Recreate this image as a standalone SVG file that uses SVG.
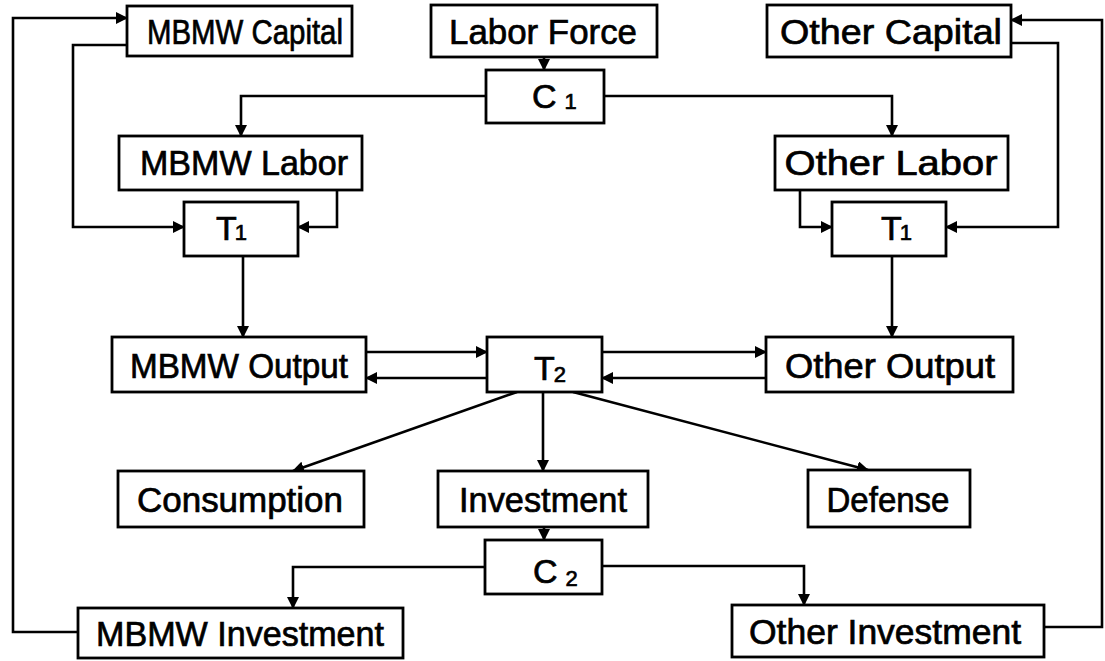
<svg xmlns="http://www.w3.org/2000/svg" width="1105" height="661" viewBox="0 0 1105 661">
<style>
.box{fill:#fff;stroke:#000;stroke-width:2.8}
.lbl{font-family:"Liberation Sans",Arial,sans-serif;font-size:35px;fill:#000;stroke:#000;stroke-width:0.7;text-anchor:middle}
.sym{font-family:"Liberation Sans",Arial,sans-serif;font-size:34px;fill:#000;stroke:#000;stroke-width:0.7}
.sub{font-size:22px}
.con{fill:none;stroke:#000;stroke-width:2.6}
</style>
<defs>
<marker id="ah" markerUnits="userSpaceOnUse" markerWidth="12" markerHeight="12" refX="11" refY="6" orient="auto">
<path d="M0,0 L12,6 L0,12 z" fill="#000"/>
</marker>
</defs>
<rect width="1105" height="661" fill="#fff"/>
<g id="connectors">
<path class="con" d="M78,632 H13 V18 H127" marker-end="url(#ah)"/>
<path class="con" d="M127,45 H73 V227 H184" marker-end="url(#ah)"/>
<path class="con" d="M337,190 V227 H298" marker-end="url(#ah)"/>
<path class="con" d="M486,96 H241 V136" marker-end="url(#ah)"/>
<path class="con" d="M604,96 H892 V136" marker-end="url(#ah)"/>
<path class="con" d="M544,57 V70" marker-end="url(#ah)"/>
<path class="con" d="M1011,43 H1058 V227 H946" marker-end="url(#ah)"/>
<path class="con" d="M800,190 V227 H832" marker-end="url(#ah)"/>
<path class="con" d="M1044,627 H1102 V20 H1011" marker-end="url(#ah)"/>
<path class="con" d="M243,256 V337" marker-end="url(#ah)"/>
<path class="con" d="M892,256 V337" marker-end="url(#ah)"/>
<path class="con" d="M366,352 H487" marker-end="url(#ah)"/>
<path class="con" d="M487,378 H366" marker-end="url(#ah)"/>
<path class="con" d="M602,352 H766" marker-end="url(#ah)"/>
<path class="con" d="M766,378 H602" marker-end="url(#ah)"/>
<path class="con" d="M517,392 L293,471" marker-end="url(#ah)"/>
<path class="con" d="M543,392 V471" marker-end="url(#ah)"/>
<path class="con" d="M573,392 L868,470" marker-end="url(#ah)"/>
<path class="con" d="M544,527 V540" marker-end="url(#ah)"/>
<path class="con" d="M485,567 H293 V608" marker-end="url(#ah)"/>
<path class="con" d="M602,566 H804 V605" marker-end="url(#ah)"/>
</g>
<g id="mbmw-capital"><rect class="box" x="127" y="6" width="225" height="50"/><text class="lbl" x="245" y="44" textLength="196" lengthAdjust="spacingAndGlyphs">MBMW Capital</text></g>
<g id="labor-force"><rect class="box" x="431" y="5" width="226" height="52"/><text class="lbl" x="543" y="44" textLength="188" lengthAdjust="spacingAndGlyphs">Labor Force</text></g>
<g id="other-capital"><rect class="box" x="767" y="5" width="244" height="52"/><text class="lbl" x="891" y="44" textLength="222" lengthAdjust="spacingAndGlyphs">Other Capital</text></g>
<g id="c1"><rect class="box" x="486" y="70" width="118" height="53"/><text class="sym" x="532" y="108">C<tspan class="sub" dx="8" dy="1">1</tspan></text></g>
<g id="mbmw-labor"><rect class="box" x="119" y="136" width="243" height="54"/><text class="lbl" x="244" y="175" textLength="208" lengthAdjust="spacingAndGlyphs">MBMW Labor</text></g>
<g id="other-labor"><rect class="box" x="775" y="136" width="233" height="54"/><text class="lbl" x="891" y="175" textLength="213" lengthAdjust="spacingAndGlyphs">Other Labor</text></g>
<g id="t1-left"><rect class="box" x="184" y="202" width="114" height="54"/><text class="sym" x="216" y="240">T<tspan class="sub" dx="-2" dy="0">1</tspan></text></g>
<g id="t1-right"><rect class="box" x="832" y="202" width="114" height="54"/><text class="sym" x="881" y="240">T<tspan class="sub" dx="-2" dy="0">1</tspan></text></g>
<g id="mbmw-output"><rect class="box" x="112" y="337" width="254" height="55"/><text class="lbl" x="239" y="378" textLength="218" lengthAdjust="spacingAndGlyphs">MBMW Output</text></g>
<g id="t2"><rect class="box" x="487" y="337" width="115" height="55"/><text class="sym" x="534" y="380">T<tspan class="sub" dx="-1" dy="2">2</tspan></text></g>
<g id="other-output"><rect class="box" x="766" y="337" width="247" height="55"/><text class="lbl" x="890" y="378" textLength="210" lengthAdjust="spacingAndGlyphs">Other Output</text></g>
<g id="consumption"><rect class="box" x="118" y="471" width="246" height="56"/><text class="lbl" x="240" y="512" textLength="206" lengthAdjust="spacingAndGlyphs">Consumption</text></g>
<g id="investment"><rect class="box" x="438" y="471" width="210" height="56"/><text class="lbl" x="543" y="512" textLength="168" lengthAdjust="spacingAndGlyphs">Investment</text></g>
<g id="defense"><rect class="box" x="808" y="470" width="162" height="57"/><text class="lbl" x="888" y="512" textLength="123" lengthAdjust="spacingAndGlyphs">Defense</text></g>
<g id="c2"><rect class="box" x="485" y="540" width="117" height="54"/><text class="sym" x="533" y="583">C<tspan class="sub" dx="8" dy="3">2</tspan></text></g>
<g id="mbmw-investment"><rect class="box" x="78" y="608" width="325" height="50"/><text class="lbl" x="240" y="646" textLength="288" lengthAdjust="spacingAndGlyphs">MBMW Investment</text></g>
<g id="other-investment"><rect class="box" x="732" y="605" width="312" height="52"/><text class="lbl" x="885" y="644" textLength="272" lengthAdjust="spacingAndGlyphs">Other Investment</text></g>
</svg>
